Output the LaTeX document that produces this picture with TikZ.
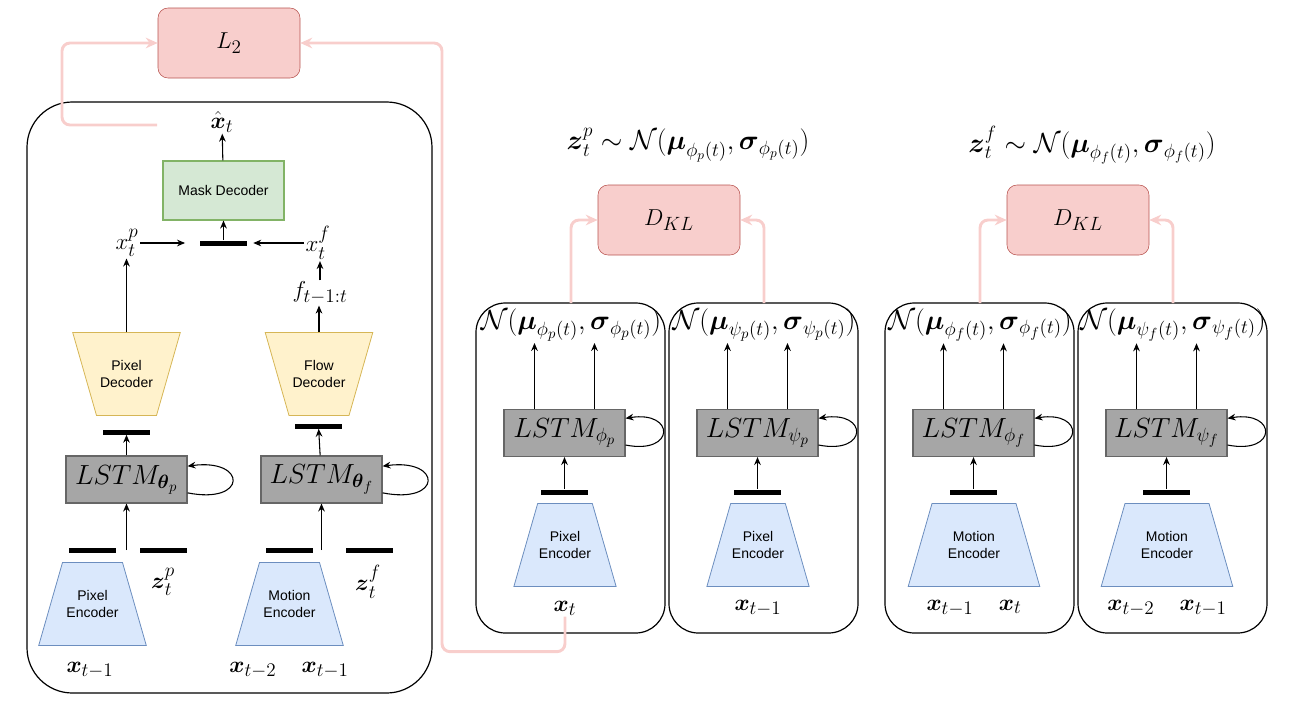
\documentclass[tikz,border=0pt]{standalone}
\usepackage{amsmath,amssymb}
\usepackage{fontspec}
\setsansfont{Liberation Sans}
\usepackage{tikz}
\usetikzlibrary{arrows.meta,positioning,calc,shapes.geometric}
\definecolor{cR}{HTML}{f8cecc}
\definecolor{cRd}{HTML}{b85450}
\definecolor{cG}{HTML}{d5e8d4}
\definecolor{cGd}{HTML}{82b366}
\definecolor{cY}{HTML}{fff2cc}
\definecolor{cYd}{HTML}{d6b656}
\definecolor{cB}{HTML}{dae8fc}
\definecolor{cBd}{HTML}{6c8ebf}
\definecolor{cL}{HTML}{a6a6a6}
\definecolor{cLd}{HTML}{666666}
\tikzset{
  mth/.style={font=\fontsize{19}{22}\selectfont,inner sep=1pt},
  big/.style={font=\fontsize{21}{24}\selectfont,inner sep=1pt},
  sml/.style={font=\sffamily\fontsize{10.5}{12.5}\selectfont},
  loss/.style={rounded corners=7.5pt,draw=cRd,fill=cR,
               minimum width=106.5pt,minimum height=52.5pt,mth},
  lstm/.style={draw=cLd,fill=cL,line width=.8pt,
               minimum width=90.75pt,minimum height=35.25pt,big},
  maskbox/.style={draw=cGd,fill=cG,line width=.8pt,
               minimum width=90.75pt,minimum height=44.25pt,sml},
  enc/.style={trapezium,trapezium left angle=74,trapezium right angle=74,
              draw=cBd,fill=cB,line width=.6pt,text width=45pt,
              inner xsep=0pt,inner ysep=21pt,align=center,sml},
  dec/.style={enc,trapezium left angle=106,trapezium right angle=106,
              draw=cYd,fill=cY},
  bar/.style={fill=black,minimum width=35.25pt,minimum height=3.75pt,
              inner sep=0pt},
  panel/.style={line width=.9pt},
  arr/.style={-{Stealth[length=6pt,width=5pt]},line width=.8pt},
  parr/.style={-{Stealth[length=9pt,width=8pt]},cR,line width=2.2pt,
               rounded corners=6pt},
}

\begin{document}
\begin{tikzpicture}[x=0.75pt,y=-0.75pt]
  \useasboundingbox (0,0) rectangle (1290,707);

  % frame-level model
  \draw[panel,rounded corners=34pt] (27,102) rectangle (432,693);
  \node[loss] (l2) at (229,43) {$L_2$};
  \node[maskbox] (mask) at (223.5,190.5) {Mask Decoder};
  \node[mth] (xhat) at (222,122) {$\hat{\boldsymbol{x}}_t$};
  \node[bar] (mb) at (223.5,243) {};
  \node[mth] (xp) at (127,243) {$x_t^p$};
  \node[mth] (xf) at (318,243) {$x_t^f$};
  \node[mth] (flw) at (320,293) {$f_{t-1:t}$};
  \node[dec] (pdec) at (126.5,374) {Pixel\\Decoder};
  \node[dec] (fdec) at (319,374) {Flow\\Decoder};
  \node[bar] (pdb) at (126.5,432) {};
  \node[bar] (fdb) at (318.5,426) {};
  \node[lstm] (ltp) at (126.5,479.5) {$LSTM_{\boldsymbol{\theta}_p}$};
  \node[lstm] (ltf) at (321.5,479.5) {$LSTM_{\boldsymbol{\theta}_f}$};
  \node[bar] (peb) at (92.5,550) {};
  \node[bar] (zpb) at (163.5,550) {};
  \node[bar] (meb) at (289.5,550) {};
  \node[bar] (zfb) at (369,550) {};
  \node[mth] (zp) at (163,582) {$\boldsymbol{z}_t^p$};
  \node[mth] (zf) at (368,582) {$\boldsymbol{z}_t^f$};
  \node[enc] (penc) at (92.5,604) {Pixel\\Encoder};
  \node[enc] (menc) at (289.5,604) {Motion\\Encoder};
  \node[mth] (xa) at (90,670) {$\boldsymbol{x}_{t-1}$};
  \node[mth] (xb) at (289,670) {$\boldsymbol{x}_{t-2}\quad\boldsymbol{x}_{t-1}$};

  \draw[arr] (mask) -- (xhat);
  \draw[arr] (mb) -- (mask);
  \draw[arr] (xp.east |- mb) -- ([xshift=-11pt]mb.west);
  \draw[arr] (xf.west |- mb) -- ([xshift=4.5pt]mb.east);
  \draw[arr] (pdec.north) -- (pdec.north |- xp.south);
  \draw[arr] (fdec.north) -- (fdec.north |- flw.south);
  \draw[arr] (flw.north) -- (flw.north |- xf.south);
  \draw[arr] (ltp) -- (pdb);
  \draw[arr] (ltf) -- (fdb);
  \draw[arr] (ltp.south |- peb) -- (ltp.south);
  \draw[arr] (ltf.south |- meb) -- (ltf.south);
  \draw[arr] ([yshift=-10pt]ltp.east) .. controls +(60,12) and +(60,-8) .. ([yshift=10pt]ltp.east);
  \draw[arr] ([yshift=-10pt]ltf.east) .. controls +(60,12) and +(60,-8) .. ([yshift=10pt]ltf.east);

  % posterior / prior branches
  \node[mth,font=\fontsize{20}{23}\selectfont] (fzp) at (688,145) {$\boldsymbol{z}_t^p\sim\mathcal{N}(\boldsymbol{\mu}_{\phi_p(t)},\boldsymbol{\sigma}_{\phi_p(t)})$};
  \node[mth,font=\fontsize{20}{23}\selectfont] (fzf) at (1092,145) {$\boldsymbol{z}_t^f\sim\mathcal{N}(\boldsymbol{\mu}_{\phi_f(t)},\boldsymbol{\sigma}_{\phi_f(t)})$};
  \node[loss] (dklp) at (669,220) {$D_{KL}$};
  \node[loss] (dklf) at (1078,220) {$D_{KL}$};

  \foreach \px/\nm/\sub/\w/\enc/\inp in {
      476/a/\phi_p/41pt/{Pixel\\Encoder}/{\boldsymbol{x}_t},
      669/b/\psi_p/41pt/{Pixel\\Encoder}/{\boldsymbol{x}_{t-1}},
      885/c/\phi_f/63pt/{Motion\\Encoder}/{\boldsymbol{x}_{t-1}\quad\boldsymbol{x}_t},
      1078/d/\psi_f/63pt/{Motion\\Encoder}/{\boldsymbol{x}_{t-2}\quad\boldsymbol{x}_{t-1}}}{
    \draw[panel,rounded corners=22pt] (\px,303) rectangle ++(189,330);
    \coordinate (top\nm) at (\px+95,303);
    \node[big] (nrm\nm) at (\px+95,325) {$\mathcal{N}(\boldsymbol{\mu}_{\sub(t)},\boldsymbol{\sigma}_{\sub(t)})$};
    \node[lstm] (lst\nm) at (\px+88.5,433) {$LSTM_{\sub}$};
    \node[bar] (enb\nm) at (\px+88.5,492) {};
    \node[enc,text width=\w] (enc\nm) at (\px+89,545) {\enc};
    \node[mth] (inp\nm) at (\px+89,608) {$\inp$};
    \draw[arr] (enb\nm) -- (lst\nm);
    \draw[arr] ([xshift=-22.5pt]lst\nm.north) -- ([xshift=-22.5pt]lst\nm.north |- nrm\nm.south);
    \draw[arr] ([xshift=22.5pt]lst\nm.north) -- ([xshift=22.5pt]lst\nm.north |- nrm\nm.south);
    \draw[arr] ([yshift=-9pt]lst\nm.east) .. controls +(50,10) and +(50,-8) .. ([yshift=11pt]lst\nm.east);
  }

  % losses
  \draw[parr] (topa) |- (dklp.west);
  \draw[parr] (topb) |- (dklp.east);
  \draw[parr] (topc) |- (dklf.west);
  \draw[parr] (topd) |- (dklf.east);
  \coordinate (lret) at (157,125);
  \draw[parr] (lret) -- ++(-95,0) |- (l2.west);
  \draw[parr] (inpa.south) -- ++(0,35) -- ++(-123,0) |- (l2.east);
\end{tikzpicture}
\end{document}
